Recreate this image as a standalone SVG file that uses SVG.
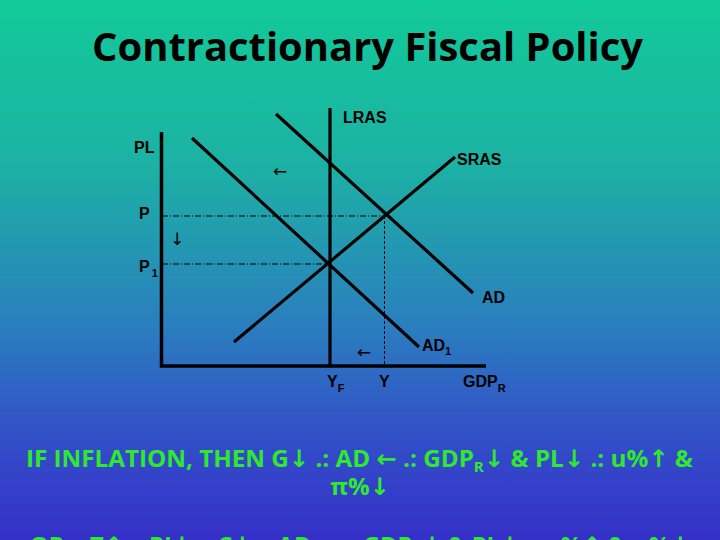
<svg xmlns="http://www.w3.org/2000/svg" width="720" height="540" viewBox="0 0 720 540">
<defs>
<linearGradient id="bg" x1="0" y1="0" x2="0" y2="1">
<stop offset="0" stop-color="#12CA98"/>
<stop offset="0.3" stop-color="#1CB2A4"/>
<stop offset="0.6" stop-color="#2A7FBE"/>
<stop offset="0.8" stop-color="#3250C8"/>
<stop offset="1" stop-color="#3530C8"/>
</linearGradient>
<style>
.lbl{font-family:"Liberation Sans",Arial,sans-serif;font-weight:bold;font-size:16px;fill:#000}
.sub{font-size:11px}
.arw{font-family:"DejaVu Sans",sans-serif;font-size:17px;fill:#000}
.curve{stroke:#000;stroke-width:3.2;fill:none}
.axis{stroke:#000;stroke-width:3.5;fill:none}
.dash{stroke:#000;stroke-width:1;fill:none;stroke-dasharray:6 2 1 2}
.vdash{stroke:#000;stroke-width:1;fill:none;stroke-dasharray:3 2}
.note{font-family:"Open Sans","DejaVu Sans",sans-serif;font-weight:bold;font-size:24px;fill:#2FE82F}
.title{font-family:"Open Sans","Noto Sans",sans-serif;font-weight:bold;font-size:40px;fill:#000}
</style>
</defs>
<rect width="720" height="540" fill="url(#bg)"/>
<text class="title" x="92" y="61" textLength="551" lengthAdjust="spacingAndGlyphs">Contractionary Fiscal Policy</text>

<g id="connectors">
<polyline class="axis" points="161.5,132 161.5,366 486,366"/>
<line id="dash-P" class="dash" x1="162" y1="216" x2="385" y2="216"/>
<line id="dash-Y" class="vdash" x1="384.5" y1="216" x2="384.5" y2="365"/>
<line id="dash-P1" class="dash" x1="162" y1="264" x2="330" y2="264"/>
</g>

<g id="axis-labels">
<text class="lbl" x="134" y="153">PL</text>
<text class="lbl" x="139" y="219">P</text>
<text class="lbl" x="139" y="272">P<tspan class="sub" dx="2" dy="5">1</tspan></text>
<text class="lbl" x="327" y="387">Y<tspan class="sub" dy="5">F</tspan></text>
<text class="lbl" x="379" y="387">Y</text>
<text class="lbl" x="463" y="387">GDP<tspan class="sub" dy="5">R</tspan></text>
</g>

<g id="LRAS">
<line class="curve" x1="330" y1="108" x2="330" y2="366"/>
<text class="lbl" x="343" y="123">LRAS</text>
</g>

<g id="SRAS">
<line class="curve" x1="234" y1="342" x2="455" y2="157"/>
<text class="lbl" x="457" y="165">SRAS</text>
</g>

<g id="AD">
<line class="curve" x1="276" y1="114" x2="473" y2="293"/>
<text class="lbl" x="482" y="303">AD</text>
</g>

<g id="AD1">
<line class="curve" x1="192" y1="138" x2="419" y2="347"/>
<text class="lbl" x="422" y="351">AD<tspan class="sub" dy="4">1</tspan></text>
</g>

<g id="shift-arrows">
<text class="arw" x="273" y="177">←</text>
<text class="arw" x="170" y="245">↓</text>
<text class="arw" x="357" y="358">←</text>
</g>

<g id="notes">
<text class="note" x="26" y="467" textLength="667" lengthAdjust="spacingAndGlyphs">IF INFLATION, THEN G↓ .: AD ← .: GDP<tspan font-size="15" dy="5">R</tspan><tspan dy="-5">↓ &amp; PL↓ .: u%↑ &amp;</tspan></text>
<text class="note" x="360" y="495" text-anchor="middle">π%↓</text>
<text class="note" x="30" y="554" textLength="660" lengthAdjust="spacingAndGlyphs">OR .: T↑ .: PI↓ .: C↓ .: AD ← .: GDP<tspan font-size="15" dy="5">R</tspan><tspan dy="-5">↓ &amp; PL↓ .: u%↑ &amp; π%↓</tspan></text>
</g>
</svg>
